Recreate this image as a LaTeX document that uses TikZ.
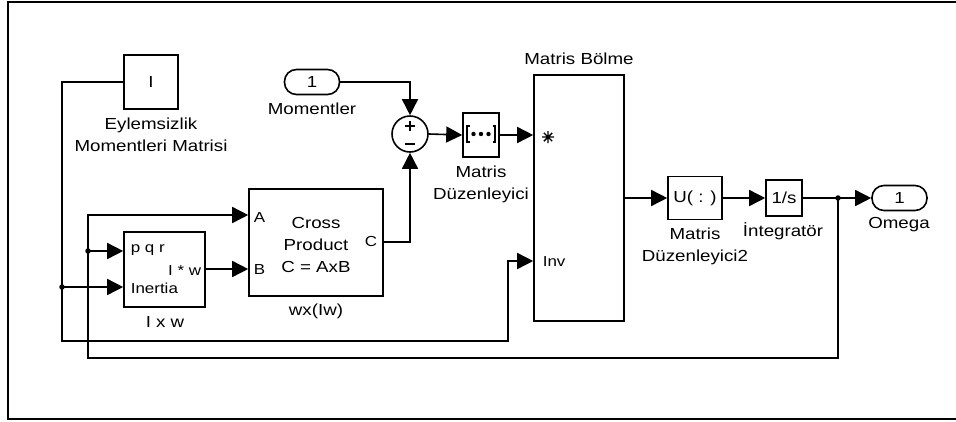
\documentclass[tikz,border=0pt]{standalone}
\usepackage{fontspec}
\setmainfont[FakeStretch=1.17]{Liberation Sans}
\usetikzlibrary{arrows.meta}
\begin{document}
\begin{tikzpicture}[x=1pt,y=-1pt,line width=1.6pt,
  blk/.style={draw,rectangle,inner sep=0pt,font=\fontsize{16}{18}\selectfont},
  pblk/.style={draw,rectangle,rounded corners=12pt,inner sep=0pt,minimum width=55pt,minimum height=25pt,font=\fontsize{16}{18}\selectfont},
  lbl/.style={align=center,inner sep=0pt,font=\fontsize{16}{22}\selectfont},
  plbl/.style={inner sep=0pt,font=\fontsize{14.5}{16}\selectfont},
  arr/.style={-{Triangle[length=16pt,width=16pt]}},
  jdot/.style={circle,fill,inner sep=0pt,minimum size=5.5pt}]
\useasboundingbox (0,0) rectangle (956,421);
% frame
\draw[line width=2.4pt] (962,2) -- (8,2) -- (8,419) -- (962,419);

% blocks
\node[blk,minimum width=54pt,minimum height=54pt] (I) at (151,82) {I};
\node[lbl] (Ilbl) at (151,135) {Eylemsizlik\\Momentleri Matrisi};

\node[pblk] (mom) at (312,82) {1};
\node[lbl] (momlbl) at (312,109) {Momentler};

\node[circle,draw,minimum size=36pt,inner sep=0pt] (sum) at (410,134) {};
\draw[line width=1.6pt] (405,126) -- (415,126) (410,121) -- (410,131);
\draw[line width=1.6pt] (405,144) -- (415,144);

\node[blk,minimum width=36pt,minimum height=44pt] (md) at (481,135) {};
\node[lbl] (mdlbl) at (481,184) {Matris\\Düzenleyici};
% concat icon
\draw[line width=1.4pt] (469.5,126) -- (467,126) -- (467,142) -- (469.5,142);
\draw[line width=1.4pt] (492.5,126) -- (495,126) -- (495,142) -- (492.5,142);
\fill (473.5,134) circle (2.2pt) (481,134) circle (2.2pt) (488.5,134) circle (2.2pt);

\node[blk,minimum width=90pt,minimum height=246pt] (mb) at (579,198) {};
\node[lbl] (mblbl) at (579,59) {Matris Bölme};
\draw[line width=1.4pt] (542,137) -- (554,137) (548,131) -- (548,143) (543.8,132.8) -- (552.2,141.2) (543.8,141.2) -- (552.2,132.8);
\node[plbl,anchor=west] (invlbl) at (542,262) {Inv};

\node[blk,minimum width=54pt,minimum height=43pt] (u) at (695,198) {U( : )};
\node[lbl] (ulbl) at (695,246) {Matris\\Düzenleyici2};

\node[blk,minimum width=36pt,minimum height=36pt] (int) at (784,198) {1/s};
\node[lbl] (intlbl) at (783,231) {İntegratör};

\node[pblk] (om) at (899.5,198) {1};
\node[lbl] (omlbl) at (899,225) {Omega};

\node[blk,minimum width=81pt,minimum height=75pt] (ixw) at (164.5,269.5) {};
\node[plbl,anchor=west] (pqr) at (130,250) {p q r};
\node[plbl,anchor=east] (iw) at (202,271) {I * w};
\node[plbl,anchor=west] (inert) at (130,288) {Inertia};
\node[lbl] (ixwlbl) at (165,322) {I x w};

\node[blk,minimum width=134pt,minimum height=107pt] (cp) at (316,242.5) {};
\node[lbl] (cptxt) at (316,245) {Cross\\Product\\C = AxB};
\node[plbl,anchor=west] (pa) at (253,218) {A};
\node[plbl,anchor=west] (pb) at (253,270) {B};
\node[plbl,anchor=east] (pc) at (378,242) {C};
\node[lbl] (cplbl) at (316,311) {wx(Iw)};

% port coordinates
\coordinate (mbin1) at (mb.west |- 0,135);
\coordinate (mbinv) at (mb.west |- 0,261);
\coordinate (mbout) at (mb.east |- 0,198);
\coordinate (cpa) at (cp.west |- 0,215);
\coordinate (cpb) at (cp.west |- 0,269);
\coordinate (cpc) at (cp.east |- 0,242);
\coordinate (ixwp) at (ixw.west |- 0,251);
\coordinate (ixwi) at (ixw.west |- 0,287);
\coordinate (ixwo) at (ixw.east |- 0,269);
\coordinate (j1) at (62,287);
\coordinate (j2) at (88,251);
\coordinate (j3) at (838,198);

% connectors
\draw[arr] (I.west) -| (62,341) -- (508,341) |- (mbinv);
\draw[arr] (j1) -- (ixwi);
\draw[arr] (mom.east) -| (sum.north);
\draw[arr] (sum.east) -- (md.west);
\draw[arr] (md.east) -- (mbin1);
\draw[arr] (mbout) -- (u.west);
\draw[arr] (u.east) -- (int.west);
\draw[arr] (int.east) -- (om.west);
\draw[arr] (j3) -- (838,358) -- (88,358) |- (cpa);
\draw[arr] (j2) -- (ixwp);
\draw[arr] (ixwo) -- (cpb);
\draw[arr] (cpc) -| (sum.south);
\node[jdot] at (j1) {};
\node[jdot] at (j2) {};
\node[jdot] at (j3) {};
\end{tikzpicture}
\end{document}
